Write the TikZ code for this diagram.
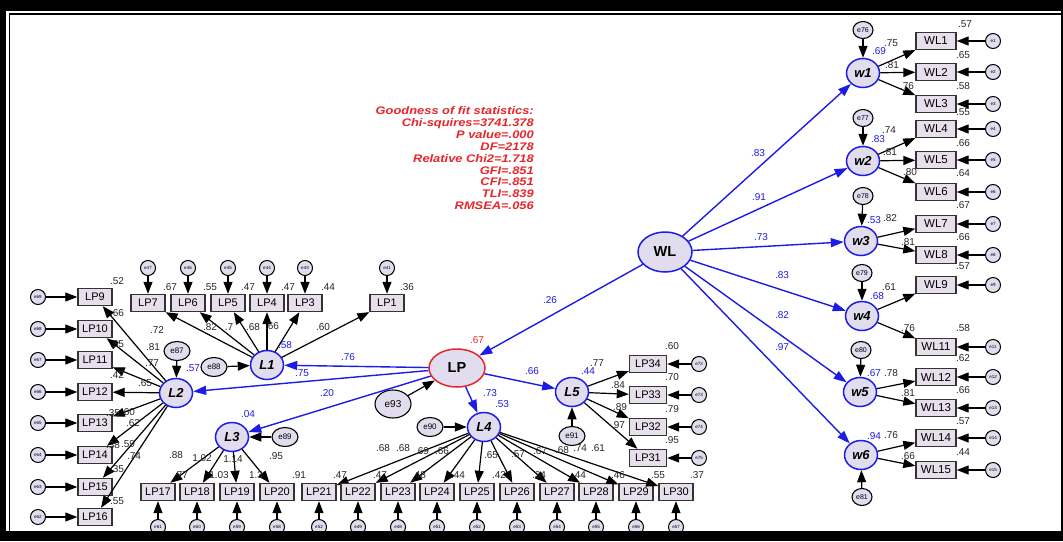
\documentclass[tikz,border=0pt]{standalone}
\usepackage{fontspec}
\setmainfont{Liberation Sans}
\usetikzlibrary{shapes.geometric,arrows.meta}
\definecolor{lav}{HTML}{E2DDEE}
\definecolor{boxf}{HTML}{E8DFEC}
\definecolor{bl}{HTML}{1C1CE6}
\definecolor{rd}{HTML}{E8262A}
\definecolor{edge}{HTML}{333333}
\begin{document}
\begin{tikzpicture}[x=1pt,y=-1pt,
 lat/.style={ellipse, draw=bl, fill=lav, line width=1.5pt, minimum width=33pt, minimum height=29pt, inner sep=0pt, font=\fontsize{13}{13}\selectfont\bfseries\itshape},
 obs/.style={rectangle, draw=edge, fill=boxf, line width=1.4pt, minimum width=34pt, minimum height=17pt, inner sep=0pt, font=\fontsize{11}{11}\selectfont},
 wbox/.style={obs, minimum width=40pt, font=\fontsize{11.5}{11.5}\selectfont},
 err/.style={ellipse, draw=black, fill=lav, line width=1.1pt, minimum width=20pt, minimum height=17pt, inner sep=0pt, font=\fontsize{7}{7}\selectfont},
 errm/.style={err, minimum width=26pt, minimum height=19pt, font=\fontsize{8}{8}\selectfont},
 errs/.style={circle, draw=black, fill=lav, line width=1pt, minimum size=15pt, inner sep=0pt, font=\fontsize{4.5}{4.5}\selectfont},
 arr/.style={draw=black, line width=1.2pt, -{Triangle[length=12pt,width=9pt]}},
 barr/.style={draw=bl, line width=1.4pt, -{Triangle[length=13pt,width=9pt]}},
 lab/.style={inner sep=0pt, font=\fontsize{10}{10}\selectfont, text=black!85},
 blab/.style={lab, text=bl},
 fitt/.style={inner sep=0pt, anchor=base east, text=rd, transform shape, xscale=1.17, font=\fontsize{11}{11}\selectfont\bfseries\itshape}]
\useasboundingbox (0,0) rectangle (1063,541);
% frame
\fill[black] (0,0) rectangle (1063,541);
\fill[white] (6,11) rectangle (1061,531);
\fill[black] (8.5,13) rectangle (1061,531);
\fill[white] (10,15) rectangle (1061,531);

% fit statistics
\node[fitt] (f1) at (534,114.5) {Goodness of fit statistics:};
\node[fitt] (f2) at (534,126.4) {Chi-squires=3741.378};
\node[fitt] (f3) at (534,138.3) {P value=.000};
\node[fitt] (f4) at (534,150.2) {DF=2178};
\node[fitt] (f5) at (534,162.1) {Relative Chi2=1.718};
\node[fitt] (f6) at (534,174) {GFI=.851};
\node[fitt] (f7) at (534,185.9) {CFI=.851};
\node[fitt] (f8) at (534,197.8) {TLI=.839};
\node[fitt] (f9) at (534,209.7) {RMSEA=.056};

% main latents
\node[lat, minimum width=54pt, minimum height=40pt, font=\fontsize{14.5}{14.5}\selectfont\bfseries] (WL) at (665,252) {WL};
\node[lat, draw=rd, minimum width=56pt, minimum height=38pt, font=\fontsize{14.5}{14.5}\selectfont\bfseries] (LP) at (457,368) {LP};

% WL side
\node[lat] (w1) at (863,73) {w1};
\node[lat] (w2) at (863,161) {w2};
\node[lat] (w3) at (861,241) {w3};
\node[lat] (w4) at (862,316) {w4};
\node[lat] (w5) at (860,392) {w5};
\node[lat] (w6) at (861,455) {w6};
\node[err] (e76) at (863,30) {e76};
\node[err] (e77) at (863,118) {e77};
\node[err] (e78) at (863,196) {e78};
\node[err] (e79) at (862,273) {e79};
\node[err] (e80) at (861,350) {e80};
\node[err] (e81) at (862,497) {e81};
\draw[arr] (e76) -- (w1);
\draw[arr] (e77) -- (w2);
\draw[arr] (e78) -- (w3);
\draw[arr] (e79) -- (w4);
\draw[arr] (e80) -- (w5);
\draw[arr] (e81) -- (w6);
\foreach \n/\y in {1/41,2/72,3/104,4/129,5/160,6/192,7/224,8/255,9/285,11/347,12/377,13/408,14/438,15/470} {
  \node[wbox] (WL\n) at (936,\y) {WL\n};
  \node[errs] (e\n) at (993,\y) {e\n};
  \draw[arr] (e\n) -- (WL\n);
}
\foreach \w/\b in {1/1,1/2,1/3,2/4,2/5,2/6,3/7,3/8,4/9,4/11,5/12,5/13,6/14,6/15} {
  \draw[arr] (w\w) -- (WL\b);
}
\foreach \w in {1,...,6} { \draw[barr] (WL) -- (w\w); }
\draw[barr] (WL) -- (LP);

% LP side latents
\node[lat] (L1) at (267,365) {L1};
\node[lat] (L2) at (176,393) {L2};
\node[lat] (L3) at (232,437) {L3};
\node[lat] (L4) at (484,427) {L4};
\node[lat] (L5) at (572,392) {L5};
\node[errm] (e87) at (177,351) {e87};
\node[errm] (e88) at (214,367) {e88};
\node[errm] (e89) at (285,437) {e89};
\node[errm] (e90) at (430,427) {e90};
\node[errm] (e91) at (572,436) {e91};
\node[err, minimum width=36pt, minimum height=28pt, font=\fontsize{10}{10}\selectfont] (e93) at (393,404) {e93};
\draw[arr] (e87) -- (L2);
\draw[arr] (e88) -- (L1);
\draw[arr] (e89) -- (L3);
\draw[arr] (e90) -- (L4);
\draw[arr] (e91) -- (L5);
\draw[arr] (e93) -- (LP);
\foreach \l in {1,...,5} { \draw[barr] (LP) -- (L\l); }

% top row (L1)
\foreach \n/\x/\e in {7/148/47,6/188/46,5/228/45,4/267/44,3/305/43,1/387/41} {
  \node[obs] (LP\n) at (\x,303) {LP\n};
  \node[errs] (eLP\n) at (\x,268) {e\e};
  \draw[arr] (eLP\n) -- (LP\n);
  \draw[arr] (L1) -- (LP\n);
}
% left column (L2)
\foreach \n/\y/\e in {9/297/69,10/329/68,11/360/67,12/392/66,13/423/65,14/455/64,15/487/63,16/517/62} {
  \node[obs] (LP\n) at (95,\y) {LP\n};
  \node[errs] (eLP\n) at (38,\y) {e\e};
  \draw[arr] (eLP\n) -- (LP\n);
  \draw[arr] (L2) -- (LP\n);
}
% bottom row (L3, L4)
\foreach \n/\x/\e/\l in {17/158/61/3,18/197/60/3,19/237/59/3,20/277/58/3,21/319/52/4,22/358/49/4,23/398/48/4,24/437/51/4,25/477/52/4,26/517/53/4,27/557/54/4,28/596/55/4,29/636/56/4,30/676/57/4} {
  \node[obs] (LP\n) at (\x,492) {LP\n};
  \node[errs] (eLP\n) at (\x,527) {e\e};
  \draw[arr] (eLP\n) -- (LP\n);
  \draw[arr] (L\l) -- (LP\n);
}
% L5 column
\foreach \n/\y/\e in {34/364/72,33/395/73,32/427/74,31/458/75} {
  \node[obs, minimum width=37pt] (LP\n) at (648,\y) {LP\n};
  \node[errs] (eLP\n) at (699,\y) {e\e};
  \draw[arr] (eLP\n) -- (LP\n);
  \draw[arr] (L5) -- (LP\n);
}

% blue labels
\foreach \x/\y/\t in {758/153/.83,759/197/.91,761/237/.73,782/275/.83,782/315/.82,782/347/.97,550/300/.26,348/357/.76,302/373/.75,285/345/.58,193/368/.57,327/393/.20,248/414/.04,490/393/.73,502/404/.53,532/371/.66,588/371/.44,879/51/.69,878/139/.83,874/220/.53,877/296/.68,874/373/.67,874/436/.94} {
  \node[blab] at (\x,\y) {\t};
}
\node[lab, text=rd] (r67) at (477,340) {.67};

% black labels
\foreach \x/\y/\t in {891/43/.75,892/65/.81,907/86/.76,889/130/.74,890/152/.81,910/172/.80,890/218/.82,908/242/.81,889/287/.61,908/328/.76,891/373/.78,908/393/.81,891/435/.76,908/456/.66,
 965/24/.57,963/55/.65,963/86/.58,963/112/.55,963/143/.66,963/173/.64,963/205/.67,963/237/.66,963/266/.57,963/328/.58,963/358/.62,963/390/.66,963/421/.57,963/452/.44,
 597/363/.77,618/385/.84,620/407/.89,618/425/.97,672/346/.60,672/377/.70,672/409/.79,672/440/.95,
 383/448/.68,403/448/.68,422/451/.69,442/451/.66,491/455/.65,518/454/.57,540/451/.67,562/450/.68,580/448/.74,598/448/.61,
 340/475/.47,380/475/.47,419/475/.48,458/475/.44,499/475/.42,539/475/.34,579/475/.44,618/475/.46,658/475/.55,697/475/.37,
 176/455/.88,202/458/1.02,233/459/1.14,276/456/.95,181/475/.77,219/475/1.03,256/475/1.3,299/475/.91,
 157/330/.72,210/327/.82,229/327/.7,253/327/.68,272/326/.66,323/327/.60,
 153/347/.81,152/363/.77,145/383/.65,128/412/.60,133/423/.62,128/444/.59,134/456/.74,
 117/281/.52,117/313/.66,117/344/.55,117/375/.42,113/413/.35,113/445/.38,117/469/.35,117/501/.55,
 170/287/.67,210/287/.55,248/287/.47,288/287/.47,328/287/.44,407/287/.36} {
  \node[lab] at (\x,\y) {\t};
}
% bottom band on top
\fill[black] (0,531) rectangle (1063,541);
\end{tikzpicture}
\end{document}
